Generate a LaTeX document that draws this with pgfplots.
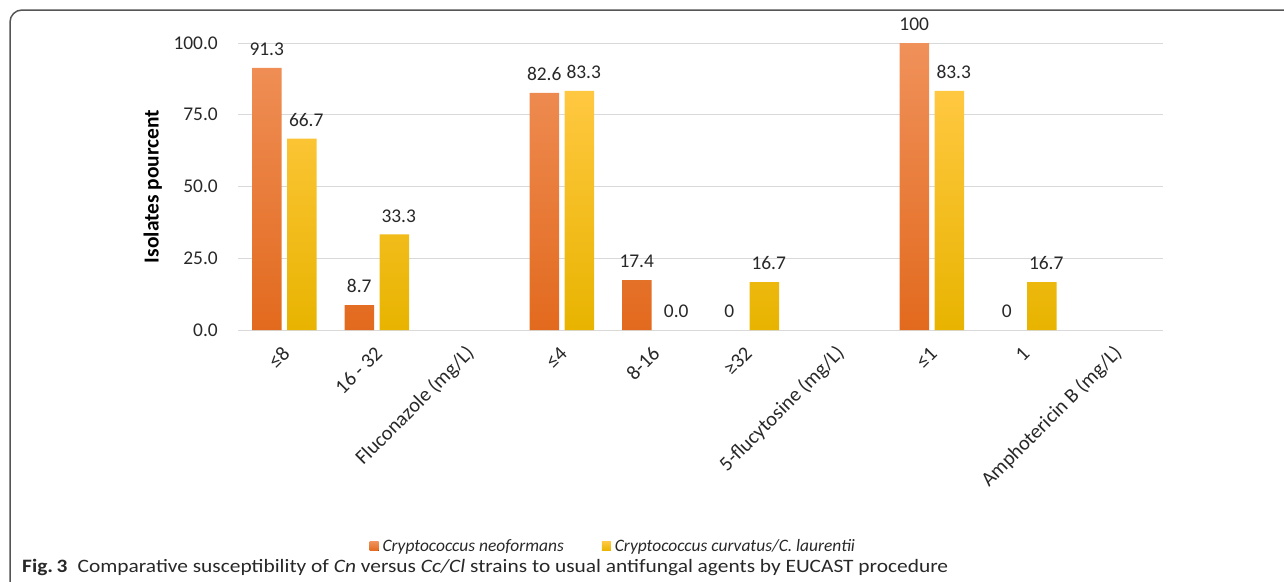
\documentclass[border=0pt]{standalone}
\usepackage{pgfplots}
\pgfplotsset{compat=1.18}
\usepackage{pgfplotstable}
\usepackage{fontspec}
\setmainfont{Carlito}
\definecolor{orA}{RGB}{240,145,90}
\definecolor{orB}{RGB}{226,106,30}
\definecolor{yeA}{RGB}{255,200,65}
\definecolor{yeB}{RGB}{232,180,0}
\definecolor{gridc}{RGB}{217,217,217}
\definecolor{txt}{RGB}{40,40,40}
\definecolor{frm}{RGB}{85,85,85}
\pgfplotstableread{
x cn cnlab cc cclab
0 91.3 91.3 66.7 66.7
1 8.7 8.7 33.3 33.3
3 82.6 82.6 83.3 83.3
4 17.4 17.4 0 0.0
5 0 0 16.7 16.7
7 100 100 83.3 83.3
8 0 0 16.7 16.7
}\data
\begin{document}
\begin{tikzpicture}
\useasboundingbox (0,0) rectangle (1284bp,-582bp);
\draw[frm, line width=1.5bp, rounded corners=12bp] (10bp,-600bp) -- (10bp,-10bp) -- (1300bp,-10bp);
\begin{axis}[
  at={(238bp,-330bp)}, anchor=south west,
  scale only axis, width=925bp, height=287bp,
  xmin=-0.5, xmax=9.5, ymin=0, ymax=100,
  xtick={0,...,9},
  xticklabels={≤8, 16 - 32, Fluconazole (mg/L), ≤4, 8-16, ≥32, 5-flucytosine (mg/L), ≤1, 1, Amphotericin B (mg/L)},
  ytick={0,25,50,75,100},
  ymajorgrids, grid style={gridc, line width=1bp},
  axis x line*=bottom, axis y line*=left,
  x axis line style={gridc, line width=1bp, -},
  y axis line style={draw=none},
  major tick length=0pt,
  /pgf/number format/assume math mode=true,
  yticklabel={\pgfmathprintnumber[fixed, fixed zerofill, precision=1]{\tick}},
  yticklabel style={font=\fontsize{19.5}{22}\selectfont, txt, inner sep=0pt, xshift=-20bp},
  xticklabel style={font=\fontsize{20.5}{24}\selectfont, txt, anchor=east, inner sep=0pt, yshift=-20bp, xshift=2bp, rotate=45},
  ylabel={\textbf{Isolates pourcent}},
  every axis y label/.style={at={(axis description cs:-0.092,0.5)}, rotate=90, anchor=center, font=\fontsize{21.5}{24}\selectfont, black},
  legend style={at={(axis description cs:0.142,-0.753)}, anchor=west, draw=none, fill=none, inner sep=0pt,
    nodes={inner sep=0pt, inner xsep=4bp},
    font=\fontsize{17.5}{20}\selectfont\itshape, txt, legend columns=2,
    /tikz/every even column/.append style={column sep=34bp}},
  legend image code/.code={\fill[#1] (0bp,-4.5bp) rectangle (9bp,4.5bp);},
  every node near coord/.append style={font=\fontsize{19.5}{22}\selectfont, txt, inner sep=0pt, yshift=12bp, anchor=south},
  clip=false,
]
\addplot[ybar, bar width=29.5bp, bar shift=-17.5bp, draw=none, top color=orA, bottom color=orB, restrict y to domain=0.001:1000] table[x=x,y=cn]{\data};
\addplot[ybar, bar width=29.5bp, bar shift=17.5bp, draw=none, top color=yeA, bottom color=yeB, restrict y to domain=0.001:1000] table[x=x,y=cc]{\data};
\addplot[ybar, bar width=29.5bp, bar shift=-17.5bp, draw=none, fill=none, forget plot, point meta=explicit symbolic, nodes near coords, every node near coord/.append style={xshift=-17.5bp}] table[x=x,y=cn,meta=cnlab]{\data};
\addplot[ybar, bar width=29.5bp, bar shift=17.5bp, draw=none, fill=none, forget plot, point meta=explicit symbolic, nodes near coords, every node near coord/.append style={xshift=22bp}] table[x=x,y=cc,meta=cclab]{\data};
\legend{Cryptococcus neoformans, Cryptococcus curvatus/C. laurentii}
\end{axis}
\node[anchor=west, inner sep=0pt, txt] at (22bp,-567bp) {\scalebox{1.13}[1]{\fontsize{19}{22}\selectfont\textbf{Fig.\,3}\hspace{9bp}Comparative susceptibility of \textit{Cn} versus \textit{Cc/Cl} strains to usual antifungal agents by EUCAST procedure}};
\end{tikzpicture}
\end{document}
